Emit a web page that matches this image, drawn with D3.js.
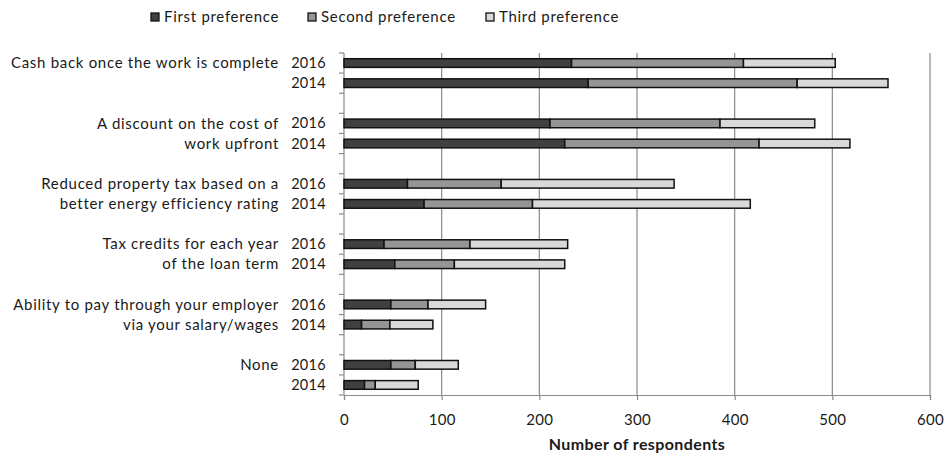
<!DOCTYPE html>
<html><head><meta charset="utf-8">
<script src="https://cdn.jsdelivr.net/npm/d3@7"></script>
<style>
html,body{margin:0;padding:0;background:#fff;}
text{font-family:Lato,"Open Sans",sans-serif;fill:#1a1a1a;}
</style></head>
<body><svg id="c" width="950" height="456"></svg>
<script>
const categoryLines = [
  ["Cash back once the work is complete"],
  ["A discount on the cost of", "work upfront"],
  ["Reduced property tax based on a", "better energy efficiency rating"],
  ["Tax credits for each year", "of the loan term"],
  ["Ability to pay through your employer", "via your salary/wages"],
  ["None"]
];
const years = ["2016", "2014"];
const seriesNames = ["First preference", "Second preference", "Third preference"];
const first2016 = [233, 211, 65, 41, 48, 48];
const first2014 = [250, 226, 82, 52, 18, 21];
const second2016 = [176, 174, 96, 88, 38, 25];
const second2014 = [214, 199, 111, 61, 29, 11];
const third2016 = [94, 97, 177, 100, 59, 44];
const third2014 = [93, 93, 223, 113, 44, 44];
const xTicks = [0, 100, 200, 300, 400, 500, 600];
const xTitle = "Number of respondents";
const colors = ["#404040", "#959595", "#d9d9d9"];

(function(){
const svg = d3.select("#c");
const mLeft = 344, mRight = 930, mTop = 53, mBottom = 395;

const rows = [];
categoryLines.forEach((c, i) => {
  rows.push({id: i + "-2016", cat: i, year: "2016",
    v: [first2016[i], second2016[i], third2016[i]]});
  rows.push({id: i + "-2014", cat: i, year: "2014",
    v: [first2014[i], second2014[i], third2014[i]]});
  if (i < categoryLines.length - 1) rows.push({id: "gap" + i, gap: true});
});
const dataRows = rows.filter(r => !r.gap);

const x = d3.scaleLinear().domain([0, 600]).range([mLeft, mRight]);
const y = d3.scaleBand().domain(rows.map(r => r.id)).range([mTop, mBottom]).padding(0);
const bw = y.bandwidth();

svg.append("g").selectAll("line").data(xTicks.filter(t => t > 0)).join("line")
  .attr("x1", d => x(d)).attr("x2", d => x(d))
  .attr("y1", mTop).attr("y2", mBottom)
  .attr("stroke", "#8a8a8a").attr("stroke-width", 1.2);

const xAxis = svg.append("g").attr("transform", `translate(0,${mBottom})`)
  .call(d3.axisBottom(x).tickValues(xTicks).tickSize(5).tickPadding(14).tickFormat(d3.format("d")));
xAxis.select(".domain").attr("stroke", "#8a8a8a").attr("stroke-width", 1.2);
xAxis.selectAll(".tick line").attr("stroke", "#8a8a8a").attr("stroke-width", 1.2);
xAxis.selectAll(".tick text").style("font-family", "Lato,'Open Sans',sans-serif")
  .style("font-size", "15px").style("letter-spacing", "0.3px").attr("fill", "#1a1a1a");

const yTickPos = rows.map(r => y(r.id)).concat([mBottom]);
svg.append("line").attr("x1", mLeft).attr("x2", mLeft).attr("y1", mTop).attr("y2", mBottom)
  .attr("stroke", "#8a8a8a").attr("stroke-width", 1.2);
svg.append("g").selectAll("line").data(yTickPos).join("line")
  .attr("x1", mLeft - 5).attr("x2", mLeft).attr("y1", d => d).attr("y2", d => d)
  .attr("stroke", "#8a8a8a").attr("stroke-width", 1.2);

const stack = d3.stack().keys([0, 1, 2]).value((d, k) => d.v[k]);
const stacked = stack(dataRows);
const barH = bw * 0.43;
svg.append("g").selectAll("g").data(stacked).join("g")
  .attr("fill", (d, i) => colors[i])
  .selectAll("rect").data(d => d.map(s => ({s, row: s.data}))).join("rect")
  .attr("x", d => x(d.s[0]))
  .attr("width", d => x(d.s[1]) - x(d.s[0]))
  .attr("y", d => y(d.row.id) + (bw - barH) / 2)
  .attr("height", barH)
  .attr("stroke", "#111").attr("stroke-width", 1.5);

svg.append("g").selectAll("text").data(dataRows).join("text")
  .attr("x", 326).attr("y", d => y(d.id) + bw / 2)
  .attr("dy", "0.35em").attr("text-anchor", "end")
  .style("font-size", "14.5px").style("letter-spacing", "0.3px").text(d => d.year);

categoryLines.forEach((lines, i) => {
  lines.forEach((ln, j) => {
    svg.append("text").attr("x", 279)
      .attr("y", y(i + "-" + years[j]) + bw / 2).attr("dy", "0.35em")
      .attr("text-anchor", "end").style("font-size", "15px")
      .style("letter-spacing", "0.7px").text(ln);
  });
});

svg.append("text").attr("x", (mLeft + mRight) / 2).attr("y", 444).attr("dy", "0.35em")
  .attr("text-anchor", "middle").style("font-size", "16px").style("font-weight", "bold")
  .style("letter-spacing", "0.4px").text(xTitle);

const legendX = [151, 308, 486];
const lg = svg.append("g").selectAll("g").data(seriesNames).join("g")
  .attr("transform", (d, i) => `translate(${legendX[i]},17)`);
lg.append("rect").attr("x", 0).attr("y", -4).attr("width", 8).attr("height", 8)
  .attr("fill", (d, i) => colors[i]).attr("stroke", "#111").attr("stroke-width", 1.3);
lg.append("text").attr("x", 13).attr("y", 0).attr("dy", "0.35em")
  .style("font-size", "15px").style("letter-spacing", "0.7px").text(d => d);
})();
</script></body></html>
